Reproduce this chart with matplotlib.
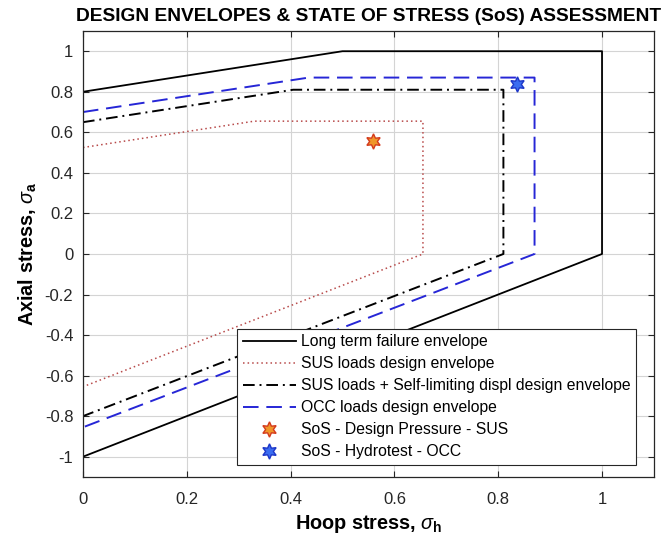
import matplotlib
matplotlib.use('Agg')
import matplotlib.pyplot as plt

plt.rcParams['font.family'] = ['Liberation Sans', 'DejaVu Sans']
plt.rcParams['mathtext.fontset'] = 'custom'
plt.rcParams['mathtext.rm'] = 'Liberation Sans'
plt.rcParams['mathtext.it'] = 'Liberation Sans:italic'
plt.rcParams['mathtext.bf'] = 'Liberation Sans:bold'

# envelope corner points (hoop stress, axial stress)
ltf_x = [0, 0.5, 1.0, 1.0, 0]
ltf_y = [0.8, 1.0, 1.0, 0, -1.0]

sus_x = [0, 0.33, 0.655, 0.655, 0]
sus_y = [0.525, 0.655, 0.655, 0, -0.655]

sld_x = [0, 0.405, 0.81, 0.81, 0]
sld_y = [0.65, 0.81, 0.81, 0, -0.80]

occ_x = [0, 0.435, 0.87, 0.87, 0]
occ_y = [0.70, 0.87, 0.87, 0, -0.855]

# state of stress points
sos_sus = (0.558, 0.555)
sos_occ = (0.837, 0.84)

labels = ['Long term failure envelope',
          'SUS loads design envelope',
          'SUS loads + Self-limiting displ design envelope',
          'OCC loads design envelope',
          'SoS - Design Pressure - SUS',
          'SoS - Hydrotest - OCC']

xticks = [0, 0.2, 0.4, 0.6, 0.8, 1]
yticks = [-1, -0.8, -0.6, -0.4, -0.2, 0, 0.2, 0.4, 0.6, 0.8, 1]

fig = plt.figure(figsize=(6.67, 5.4), dpi=100)
ax = fig.add_axes([0.1244, 0.1167, 0.856, 0.826])

hexagram = (6, 1, 0)

ax.plot(ltf_x, ltf_y, color='black', lw=1.3, label=labels[0])
ax.plot(sus_x, sus_y, color='#b84a4a', lw=1.1, ls=(0, (1, 2)), label=labels[1])
ax.plot(sld_x, sld_y, color='black', lw=1.4, ls=(0, (6, 2.5, 1, 2.5)), label=labels[2])
ax.plot(occ_x, occ_y, color='#2626d6', lw=1.4, ls=(0, (8, 4)), label=labels[3])
ax.plot([sos_sus[0]], [sos_sus[1]], ls='none', marker=hexagram, ms=11,
        mfc='#f0962a', mec='#d43a1c', mew=1.0, label=labels[4])
ax.plot([sos_occ[0]], [sos_occ[1]], ls='none', marker=hexagram, ms=11,
        mfc='#3a6cf0', mec='#1c36c8', mew=1.0, label=labels[5])

ax.set_xlim(0, 1.1)
ax.set_ylim(-1.1, 1.1)
ax.set_xticks(xticks)
ax.set_yticks(yticks)
ax.set_xticklabels(['0', '0.2', '0.4', '0.6', '0.8', '1'])
ax.set_yticklabels(['-1', '-0.8', '-0.6', '-0.4', '-0.2', '0', '0.2', '0.4', '0.6', '0.8', '1'])
ax.tick_params(direction='in', top=True, right=True, labelsize=12,
               colors='#262626', length=4, width=0.8)
ax.tick_params(axis='x', pad=11)
ax.tick_params(axis='y', pad=7)
ax.grid(True, color='#d4d4d4', lw=0.8)
ax.set_axisbelow(True)
for s in ax.spines.values():
    s.set_color('#262626')
    s.set_linewidth(0.9)

ax.set_title('DESIGN ENVELOPES & STATE OF STRESS (SoS) ASSESSMENT',
             fontsize=13.8, fontweight='bold', pad=7)
ax.set_xlabel(r'Hoop stress, $\sigma_\mathbf{h}$', fontsize=14.3, fontweight='bold', labelpad=4)
ax.set_ylabel(r'Axial stress, $\sigma_\mathbf{a}$', fontsize=14.3, fontweight='bold', labelpad=4)

leg = ax.legend(loc='lower left', bbox_to_anchor=(0.27, 0.027), borderaxespad=0,
                fontsize=11.3, handlelength=3.4, numpoints=1, fancybox=False,
                framealpha=1, edgecolor='#262626', labelspacing=0.45,
                handletextpad=0.3, borderpad=0.35)
leg.get_frame().set_linewidth(0.8)

fig.savefig('out.png', dpi=100)
